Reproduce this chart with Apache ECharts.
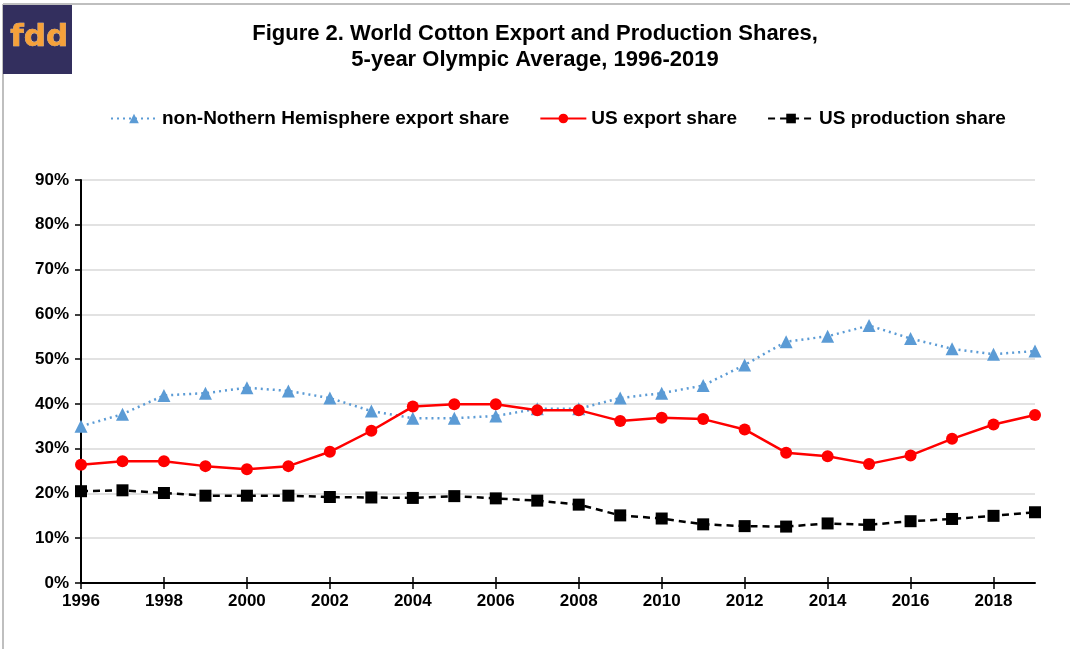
<!DOCTYPE html>
<html>
<head>
<meta charset="utf-8">
<script src="https://cdn.jsdelivr.net/npm/echarts@6/dist/echarts.min.js"></script>
<style>
  html, body { margin: 0; padding: 0; background: #fff; }
  #chart { width: 1070px; height: 649px; }
</style>
</head>
<body>
<div id="chart"></div>
<script>
const years = ['1996', '1997', '1998', '1999', '2000', '2001', '2002', '2003', '2004', '2005', '2006', '2007',
    '2008', '2009', '2010', '2011', '2012', '2013', '2014', '2015', '2016', '2017', '2018', '2019'];

// shares in %
const nonNorthShare = [35.0, 37.7, 41.9, 42.4, 43.6, 42.9, 41.3, 38.4, 36.8, 36.8, 37.3, 38.9,
    38.9, 41.3, 42.4, 44.1, 48.7, 53.9, 55.1, 57.5, 54.6, 52.3, 51.1, 51.8];
const usExportShare = [26.4, 27.2, 27.2, 26.1, 25.4, 26.1, 29.3, 34.0, 39.4, 39.9, 39.9, 38.6,
    38.6, 36.2, 36.9, 36.6, 34.3, 29.1, 28.3, 26.6, 28.5, 32.2, 35.4, 37.5];
const usProdShare = [20.5, 20.7, 20.1, 19.5, 19.5, 19.5, 19.2, 19.1, 19.0, 19.4, 18.9, 18.4,
    17.5, 15.1, 14.4, 13.1, 12.7, 12.6, 13.3, 13.0, 13.8, 14.3, 15.0, 15.8];

const font = 'Liberation Sans, Arial, sans-serif';

const chart = echarts.init(document.getElementById('chart'));

const option = {
    backgroundColor: '#fff',
    animation: false,
    title: {
        text: 'Figure 2. World Cotton Export and Production Shares,\n5-year Olympic Average, 1996-2019',
        left: 'center',
        top: 16,
        textStyle: {
            fontFamily: font,
            fontSize: 22,
            fontWeight: 'bold',
            color: '#000',
            lineHeight: 26
        }
    },
    graphic: [
        // frame
        { type: 'line', shape: { x1: 3, y1: 4, x2: 1070, y2: 4 }, style: { stroke: '#bfbfbf', lineWidth: 2 } },
        { type: 'line', shape: { x1: 3, y1: 4, x2: 3, y2: 649 }, style: { stroke: '#bfbfbf', lineWidth: 2 } },
        // logo
        { type: 'rect', shape: { x: 3, y: 5, width: 69, height: 69 }, style: { fill: '#332f5e' } },
        {
            type: 'text', left: 10, top: 22,
            style: { text: 'fdd', fill: '#f6a13a', font: 'bold 31px "DejaVu Sans", sans-serif', stroke: '#f9d9a8', lineWidth: 0.6 }
        }
    ],
    legend: {
        top: 104,
        left: 105,
        itemGap: 30,
        itemWidth: 46,
        itemHeight: 12,
        textStyle: { fontFamily: font, fontSize: 19, fontWeight: 'bold', color: '#000' },
        data: ['non-Nothern Hemisphere export share', 'US export share', 'US production share']
    },
    grid: { left: 81, right: 35, top: 180, bottom: 66 },
    xAxis: [
        {
            type: 'category',
            data: years,
            boundaryGap: false,
            axisLine: { lineStyle: { color: '#000', width: 2 } },
            axisTick: { interval: 1, length: 6, lineStyle: { color: '#000', width: 1.5 } },
            axisLabel: {
                interval: 1,
                fontFamily: font, fontSize: 17, fontWeight: 'bold', color: '#000', margin: 10
            },
            splitLine: { show: false }
        },
        {
            // inner half of the crossing ticks
            type: 'category',
            data: years,
            position: 'bottom',
            boundaryGap: false,
            axisLine: { show: false },
            axisTick: { interval: 1, inside: true, length: 6, lineStyle: { color: '#000', width: 1.5 } },
            axisLabel: { show: false },
            splitLine: { show: false }
        }
    ],
    yAxis: {
        type: 'value',
        min: 0, max: 90, interval: 10,
        axisLine: { show: true, lineStyle: { color: '#000', width: 2 } },
        axisTick: { show: true, length: 6, lineStyle: { color: '#000', width: 1.5 } },
        axisLabel: {
            formatter: '{value}%',
            fontFamily: font, fontSize: 17, fontWeight: 'bold', color: '#000', margin: 12
        },
        splitLine: { lineStyle: { color: '#d9d9d9', width: 1.5 } }
    },
    series: [
        {
            name: 'non-Nothern Hemisphere export share',
            type: 'line',
            data: nonNorthShare,
            symbol: 'triangle',
            symbolSize: 13,
            itemStyle: { color: '#5b9bd5' },
            lineStyle: { color: '#5b9bd5', width: 2.5, type: [2, 4] },
            z: 2
        },
        {
            name: 'US export share',
            type: 'line',
            data: usExportShare,
            symbol: 'circle',
            symbolSize: 12,
            itemStyle: { color: '#ff0000' },
            lineStyle: { color: '#ff0000', width: 2.5 },
            z: 3
        },
        {
            name: 'US production share',
            type: 'line',
            data: usProdShare,
            symbol: 'rect',
            symbolSize: 12,
            itemStyle: { color: '#000' },
            lineStyle: { color: '#000', width: 2.5, type: [7, 5] },
            z: 4
        }
    ]
};

chart.setOption(option);
</script>
</body>
</html>
